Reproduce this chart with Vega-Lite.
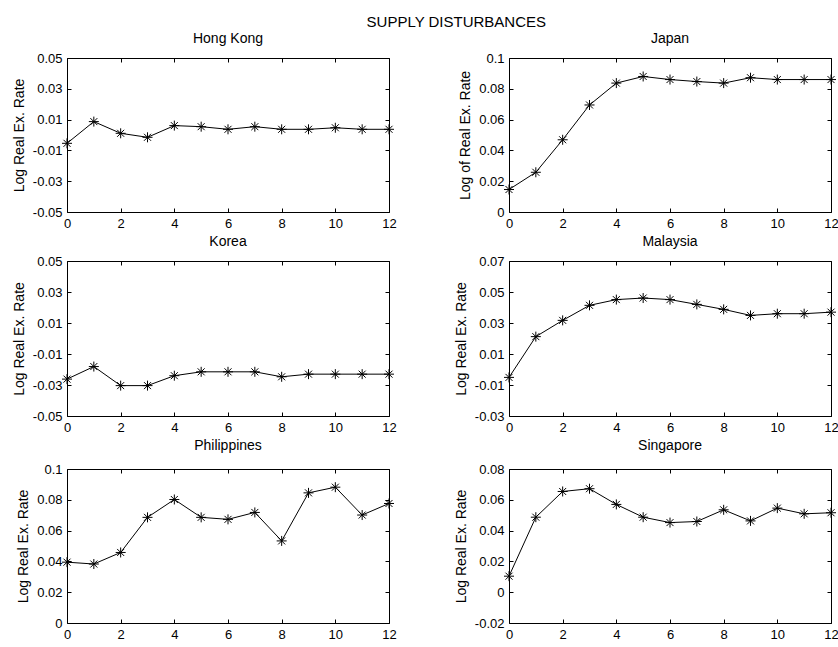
{
  "$schema": "https://vega.github.io/schema/vega-lite/v6.json",
  "padding": {"left": 11, "top": 14, "right": 0, "bottom": 0},
  "background": "white",
  "title": {"text": "SUPPLY DISTURBANCES", "fontSize": 15, "fontWeight": "normal", "font": "Liberation Sans", "color": "black", "anchor": "middle", "dx": 31, "offset": 2},
  "config": {
    "font": "Liberation Sans",
    "view": {"stroke": "black", "strokeWidth": 1},
    "axis": {"domain": false, "grid": false, "tickColor": "black", "tickSize": -4, "labelColor": "black", "labelFontSize": 13, "labelPadding": 9, "titleColor": "black", "titleFontSize": 14, "titleFontWeight": "normal", "titlePadding": 6, "labelFlush": false, "labelOverlap": false},
    "title": {"fontSize": 14, "fontWeight": "normal", "color": "black", "offset": 6},
    "style": {"group-title": {"fontSize": 14, "fontWeight": "normal", "color": "black"}}
  },
  "datasets": {
    "irf": [
      {"country": "Hong Kong", "t": 0, "v": -0.0054}, {"country": "Hong Kong", "t": 1, "v": 0.0087}, {"country": "Hong Kong", "t": 2, "v": 0.0011}, {"country": "Hong Kong", "t": 3, "v": -0.0015}, {"country": "Hong Kong", "t": 4, "v": 0.0061}, {"country": "Hong Kong", "t": 5, "v": 0.0054}, {"country": "Hong Kong", "t": 6, "v": 0.0037}, {"country": "Hong Kong", "t": 7, "v": 0.0054}, {"country": "Hong Kong", "t": 8, "v": 0.0037}, {"country": "Hong Kong", "t": 9, "v": 0.0037}, {"country": "Hong Kong", "t": 10, "v": 0.0047}, {"country": "Hong Kong", "t": 11, "v": 0.0037}, {"country": "Hong Kong", "t": 12, "v": 0.0037},
      {"country": "Japan", "t": 0, "v": 0.0146}, {"country": "Japan", "t": 1, "v": 0.0258}, {"country": "Japan", "t": 2, "v": 0.0469}, {"country": "Japan", "t": 3, "v": 0.0695}, {"country": "Japan", "t": 4, "v": 0.0837}, {"country": "Japan", "t": 5, "v": 0.088}, {"country": "Japan", "t": 6, "v": 0.086}, {"country": "Japan", "t": 7, "v": 0.0847}, {"country": "Japan", "t": 8, "v": 0.0837}, {"country": "Japan", "t": 9, "v": 0.0872}, {"country": "Japan", "t": 10, "v": 0.086}, {"country": "Japan", "t": 11, "v": 0.086}, {"country": "Japan", "t": 12, "v": 0.086},
      {"country": "Korea", "t": 0, "v": -0.0262}, {"country": "Korea", "t": 1, "v": -0.0181}, {"country": "Korea", "t": 2, "v": -0.0304}, {"country": "Korea", "t": 3, "v": -0.0304}, {"country": "Korea", "t": 4, "v": -0.024}, {"country": "Korea", "t": 5, "v": -0.0215}, {"country": "Korea", "t": 6, "v": -0.0215}, {"country": "Korea", "t": 7, "v": -0.0215}, {"country": "Korea", "t": 8, "v": -0.0247}, {"country": "Korea", "t": 9, "v": -0.023}, {"country": "Korea", "t": 10, "v": -0.023}, {"country": "Korea", "t": 11, "v": -0.023}, {"country": "Korea", "t": 12, "v": -0.023},
      {"country": "Malaysia", "t": 0, "v": -0.0051}, {"country": "Malaysia", "t": 1, "v": 0.0212}, {"country": "Malaysia", "t": 2, "v": 0.0317}, {"country": "Malaysia", "t": 3, "v": 0.0414}, {"country": "Malaysia", "t": 4, "v": 0.0451}, {"country": "Malaysia", "t": 5, "v": 0.0461}, {"country": "Malaysia", "t": 6, "v": 0.0451}, {"country": "Malaysia", "t": 7, "v": 0.042}, {"country": "Malaysia", "t": 8, "v": 0.0388}, {"country": "Malaysia", "t": 9, "v": 0.0349}, {"country": "Malaysia", "t": 10, "v": 0.036}, {"country": "Malaysia", "t": 11, "v": 0.036}, {"country": "Malaysia", "t": 12, "v": 0.037},
      {"country": "Philippines", "t": 0, "v": 0.0395}, {"country": "Philippines", "t": 1, "v": 0.0383}, {"country": "Philippines", "t": 2, "v": 0.0458}, {"country": "Philippines", "t": 3, "v": 0.0686}, {"country": "Philippines", "t": 4, "v": 0.0802}, {"country": "Philippines", "t": 5, "v": 0.0686}, {"country": "Philippines", "t": 6, "v": 0.0673}, {"country": "Philippines", "t": 7, "v": 0.0718}, {"country": "Philippines", "t": 8, "v": 0.0533}, {"country": "Philippines", "t": 9, "v": 0.0845}, {"country": "Philippines", "t": 10, "v": 0.0882}, {"country": "Philippines", "t": 11, "v": 0.0701}, {"country": "Philippines", "t": 12, "v": 0.0776},
      {"country": "Singapore", "t": 0, "v": 0.0104}, {"country": "Singapore", "t": 1, "v": 0.0487}, {"country": "Singapore", "t": 2, "v": 0.0654}, {"country": "Singapore", "t": 3, "v": 0.0672}, {"country": "Singapore", "t": 4, "v": 0.057}, {"country": "Singapore", "t": 5, "v": 0.0487}, {"country": "Singapore", "t": 6, "v": 0.0452}, {"country": "Singapore", "t": 7, "v": 0.0459}, {"country": "Singapore", "t": 8, "v": 0.0535}, {"country": "Singapore", "t": 9, "v": 0.0463}, {"country": "Singapore", "t": 10, "v": 0.0546}, {"country": "Singapore", "t": 11, "v": 0.0509}, {"country": "Singapore", "t": 12, "v": 0.0516}
    ]
  },
  "data": {"name": "irf"},
  "columns": 2,
  "spacing": {"row": 3, "column": 56},
  "concat": [
      {"width": 322, "height": 154, "title": "Hong Kong", "transform": [{"filter": "datum.country === 'Hong Kong'"}],
       "layer": [
        {"mark": {"type": "line", "color": "black", "strokeWidth": 1},
         "encoding": {"x": {"field": "t", "type": "quantitative", "scale": {"domain": [0, 12], "nice": false}, "axis": {"orient": "bottom", "title": null, "values": [0, 2, 4, 6, 8, 10, 12]}},
                      "y": {"field": "v", "type": "quantitative", "scale": {"domain": [-0.05, 0.05], "nice": false, "zero": false}, "axis": {"orient": "left", "title": "Log Real Ex. Rate", "values": [-0.05, -0.03, -0.01, 0.01, 0.03, 0.05], "labelExpr": "'' + datum.value"}}}},
        {"mark": {"type": "point", "shape": "M0,-1L0,1M-1,0L1,0M-0.7,-0.7L0.7,0.7M-0.7,0.7L0.7,-0.7", "filled": false, "color": "black", "size": 100, "strokeWidth": 1, "opacity": 1},
         "encoding": {"x": {"field": "t", "type": "quantitative", "axis": {"orient": "top", "title": null, "labels": false, "values": [0, 2, 4, 6, 8, 10, 12]}},
                      "y": {"field": "v", "type": "quantitative", "axis": {"orient": "right", "title": null, "labels": false, "values": [-0.05, -0.03, -0.01, 0.01, 0.03, 0.05]}}}}
       ],
       "resolve": {"axis": {"x": "independent", "y": "independent"}}},
      {"width": 322, "height": 154, "title": "Japan", "transform": [{"filter": "datum.country === 'Japan'"}],
       "layer": [
        {"mark": {"type": "line", "color": "black", "strokeWidth": 1},
         "encoding": {"x": {"field": "t", "type": "quantitative", "scale": {"domain": [0, 12], "nice": false}, "axis": {"orient": "bottom", "title": null, "values": [0, 2, 4, 6, 8, 10, 12]}},
                      "y": {"field": "v", "type": "quantitative", "scale": {"domain": [0, 0.1], "nice": false, "zero": false}, "axis": {"orient": "left", "title": "Log of Real Ex. Rate", "values": [0, 0.02, 0.04, 0.06, 0.08, 0.1], "labelExpr": "'' + datum.value"}}}},
        {"mark": {"type": "point", "shape": "M0,-1L0,1M-1,0L1,0M-0.7,-0.7L0.7,0.7M-0.7,0.7L0.7,-0.7", "filled": false, "color": "black", "size": 100, "strokeWidth": 1, "opacity": 1},
         "encoding": {"x": {"field": "t", "type": "quantitative", "axis": {"orient": "top", "title": null, "labels": false, "values": [0, 2, 4, 6, 8, 10, 12]}},
                      "y": {"field": "v", "type": "quantitative", "axis": {"orient": "right", "title": null, "labels": false, "values": [0, 0.02, 0.04, 0.06, 0.08, 0.1]}}}}
       ],
       "resolve": {"axis": {"x": "independent", "y": "independent"}}},
      {"width": 322, "height": 155, "title": "Korea", "transform": [{"filter": "datum.country === 'Korea'"}],
       "layer": [
        {"mark": {"type": "line", "color": "black", "strokeWidth": 1},
         "encoding": {"x": {"field": "t", "type": "quantitative", "scale": {"domain": [0, 12], "nice": false}, "axis": {"orient": "bottom", "title": null, "values": [0, 2, 4, 6, 8, 10, 12]}},
                      "y": {"field": "v", "type": "quantitative", "scale": {"domain": [-0.05, 0.05], "nice": false, "zero": false}, "axis": {"orient": "left", "title": "Log Real Ex. Rate", "values": [-0.05, -0.03, -0.01, 0.01, 0.03, 0.05], "labelExpr": "'' + datum.value"}}}},
        {"mark": {"type": "point", "shape": "M0,-1L0,1M-1,0L1,0M-0.7,-0.7L0.7,0.7M-0.7,0.7L0.7,-0.7", "filled": false, "color": "black", "size": 100, "strokeWidth": 1, "opacity": 1},
         "encoding": {"x": {"field": "t", "type": "quantitative", "axis": {"orient": "top", "title": null, "labels": false, "values": [0, 2, 4, 6, 8, 10, 12]}},
                      "y": {"field": "v", "type": "quantitative", "axis": {"orient": "right", "title": null, "labels": false, "values": [-0.05, -0.03, -0.01, 0.01, 0.03, 0.05]}}}}
       ],
       "resolve": {"axis": {"x": "independent", "y": "independent"}}},
      {"width": 322, "height": 155, "title": "Malaysia", "transform": [{"filter": "datum.country === 'Malaysia'"}],
       "layer": [
        {"mark": {"type": "line", "color": "black", "strokeWidth": 1},
         "encoding": {"x": {"field": "t", "type": "quantitative", "scale": {"domain": [0, 12], "nice": false}, "axis": {"orient": "bottom", "title": null, "values": [0, 2, 4, 6, 8, 10, 12]}},
                      "y": {"field": "v", "type": "quantitative", "scale": {"domain": [-0.03, 0.07], "nice": false, "zero": false}, "axis": {"orient": "left", "title": "Log Real Ex. Rate", "values": [-0.03, -0.01, 0.01, 0.03, 0.05, 0.07], "labelExpr": "'' + datum.value"}}}},
        {"mark": {"type": "point", "shape": "M0,-1L0,1M-1,0L1,0M-0.7,-0.7L0.7,0.7M-0.7,0.7L0.7,-0.7", "filled": false, "color": "black", "size": 100, "strokeWidth": 1, "opacity": 1},
         "encoding": {"x": {"field": "t", "type": "quantitative", "axis": {"orient": "top", "title": null, "labels": false, "values": [0, 2, 4, 6, 8, 10, 12]}},
                      "y": {"field": "v", "type": "quantitative", "axis": {"orient": "right", "title": null, "labels": false, "values": [-0.03, -0.01, 0.01, 0.03, 0.05, 0.07]}}}}
       ],
       "resolve": {"axis": {"x": "independent", "y": "independent"}}},
      {"width": 322, "height": 154, "title": {"text": "Philippines", "offset": 10}, "transform": [{"filter": "datum.country === 'Philippines'"}],
       "layer": [
        {"mark": {"type": "line", "color": "black", "strokeWidth": 1},
         "encoding": {"x": {"field": "t", "type": "quantitative", "scale": {"domain": [0, 12], "nice": false}, "axis": {"orient": "bottom", "title": null, "values": [0, 2, 4, 6, 8, 10, 12]}},
                      "y": {"field": "v", "type": "quantitative", "scale": {"domain": [0, 0.1], "nice": false, "zero": false}, "axis": {"orient": "left", "title": "Log Real Ex. Rate", "values": [0, 0.02, 0.04, 0.06, 0.08, 0.1], "labelExpr": "'' + datum.value"}}}},
        {"mark": {"type": "point", "shape": "M0,-1L0,1M-1,0L1,0M-0.7,-0.7L0.7,0.7M-0.7,0.7L0.7,-0.7", "filled": false, "color": "black", "size": 100, "strokeWidth": 1, "opacity": 1},
         "encoding": {"x": {"field": "t", "type": "quantitative", "axis": {"orient": "top", "title": null, "labels": false, "values": [0, 2, 4, 6, 8, 10, 12]}},
                      "y": {"field": "v", "type": "quantitative", "axis": {"orient": "right", "title": null, "labels": false, "values": [0, 0.02, 0.04, 0.06, 0.08, 0.1]}}}}
       ],
       "resolve": {"axis": {"x": "independent", "y": "independent"}}},
      {"width": 322, "height": 154, "title": {"text": "Singapore", "offset": 10}, "transform": [{"filter": "datum.country === 'Singapore'"}],
       "layer": [
        {"mark": {"type": "line", "color": "black", "strokeWidth": 1},
         "encoding": {"x": {"field": "t", "type": "quantitative", "scale": {"domain": [0, 12], "nice": false}, "axis": {"orient": "bottom", "title": null, "values": [0, 2, 4, 6, 8, 10, 12]}},
                      "y": {"field": "v", "type": "quantitative", "scale": {"domain": [-0.02, 0.08], "nice": false, "zero": false}, "axis": {"orient": "left", "title": "Log Real Ex. Rate", "values": [-0.02, 0, 0.02, 0.04, 0.06, 0.08], "labelExpr": "'' + datum.value"}}}},
        {"mark": {"type": "point", "shape": "M0,-1L0,1M-1,0L1,0M-0.7,-0.7L0.7,0.7M-0.7,0.7L0.7,-0.7", "filled": false, "color": "black", "size": 100, "strokeWidth": 1, "opacity": 1},
         "encoding": {"x": {"field": "t", "type": "quantitative", "axis": {"orient": "top", "title": null, "labels": false, "values": [0, 2, 4, 6, 8, 10, 12]}},
                      "y": {"field": "v", "type": "quantitative", "axis": {"orient": "right", "title": null, "labels": false, "values": [-0.02, 0, 0.02, 0.04, 0.06, 0.08]}}}}
       ],
       "resolve": {"axis": {"x": "independent", "y": "independent"}}}
  ]
}
